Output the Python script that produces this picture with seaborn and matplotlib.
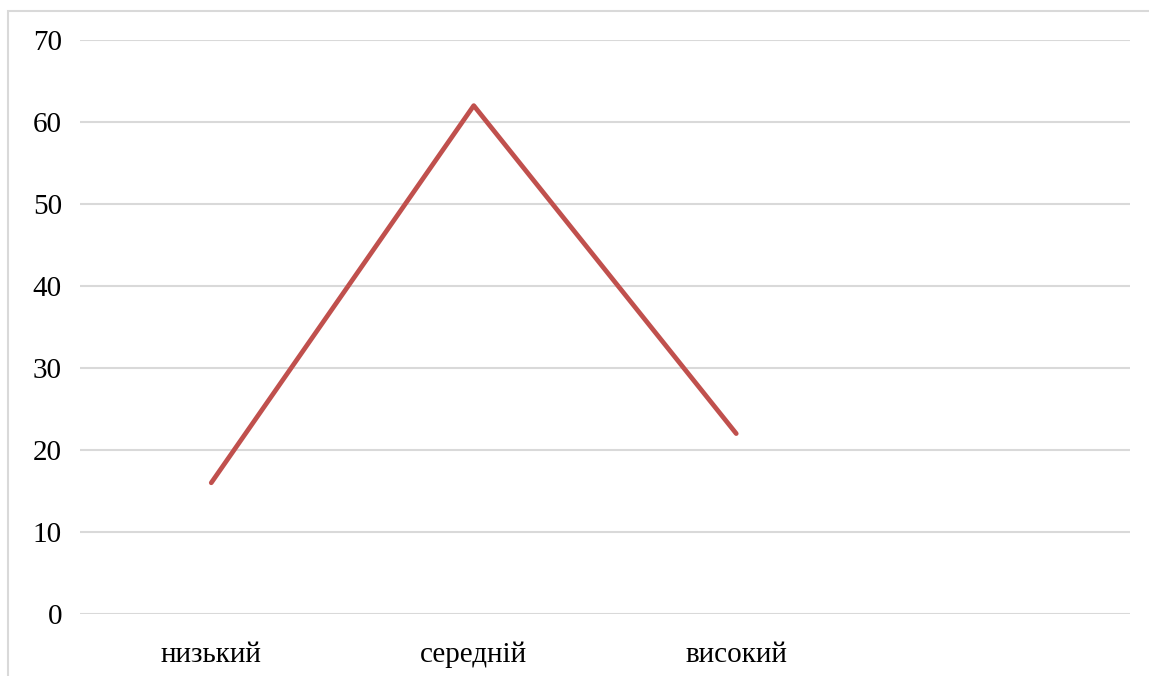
import matplotlib
matplotlib.use("Agg")
import matplotlib.pyplot as plt
from matplotlib.patches import Rectangle
import seaborn as sns
import pandas as pd

levels = ["низький", "середній", "високий"]
shares = [16, 62, 22]
y_ticks = [0, 10, 20, 30, 40, 50, 60, 70]

sns.set_theme(style="white")
plt.rcParams["font.family"] = ["Liberation Serif", "DejaVu Serif"]

W, H = 1149, 676
fig = plt.figure(figsize=(W / 100, H / 100), dpi=100)
ax = fig.add_axes([80 / W, (H - 614) / H, (1130 - 80) / W, (614 - 40) / H])

df = pd.DataFrame({"level": levels, "share": shares})
sns.lineplot(data=df, x="level", y="share", ax=ax, color="#C0504D",
             linewidth=3.4, sort=False)

ax.set_xlim(-0.5, 3.5)
ax.set_ylim(0, 70)
ax.set_yticks(y_ticks)
ax.set_yticklabels([str(v) for v in y_ticks])
ax.set_xticks(range(len(levels)))
ax.set_xticklabels(levels)
ax.set_xlabel("")
ax.set_ylabel("")

ax.grid(axis="y", color="#D9D9D9", linewidth=1.5)
ax.set_axisbelow(True)
for s in ax.spines.values():
    s.set_visible(False)
ax.tick_params(axis="y", length=0, pad=13, labelsize=21, labelcolor="black")
ax.tick_params(axis="x", length=0, pad=20, labelsize=21, labelcolor="black")

# outer chart frame
fig.add_artist(Rectangle((8 / W, -0.1), 2.0, (H - 11) / H + 0.1, fill=False,
                         edgecolor="#D9D9D9", linewidth=1.5,
                         transform=fig.transFigure, clip_on=False))

fig.savefig("out.png", dpi=100, facecolor="white")
